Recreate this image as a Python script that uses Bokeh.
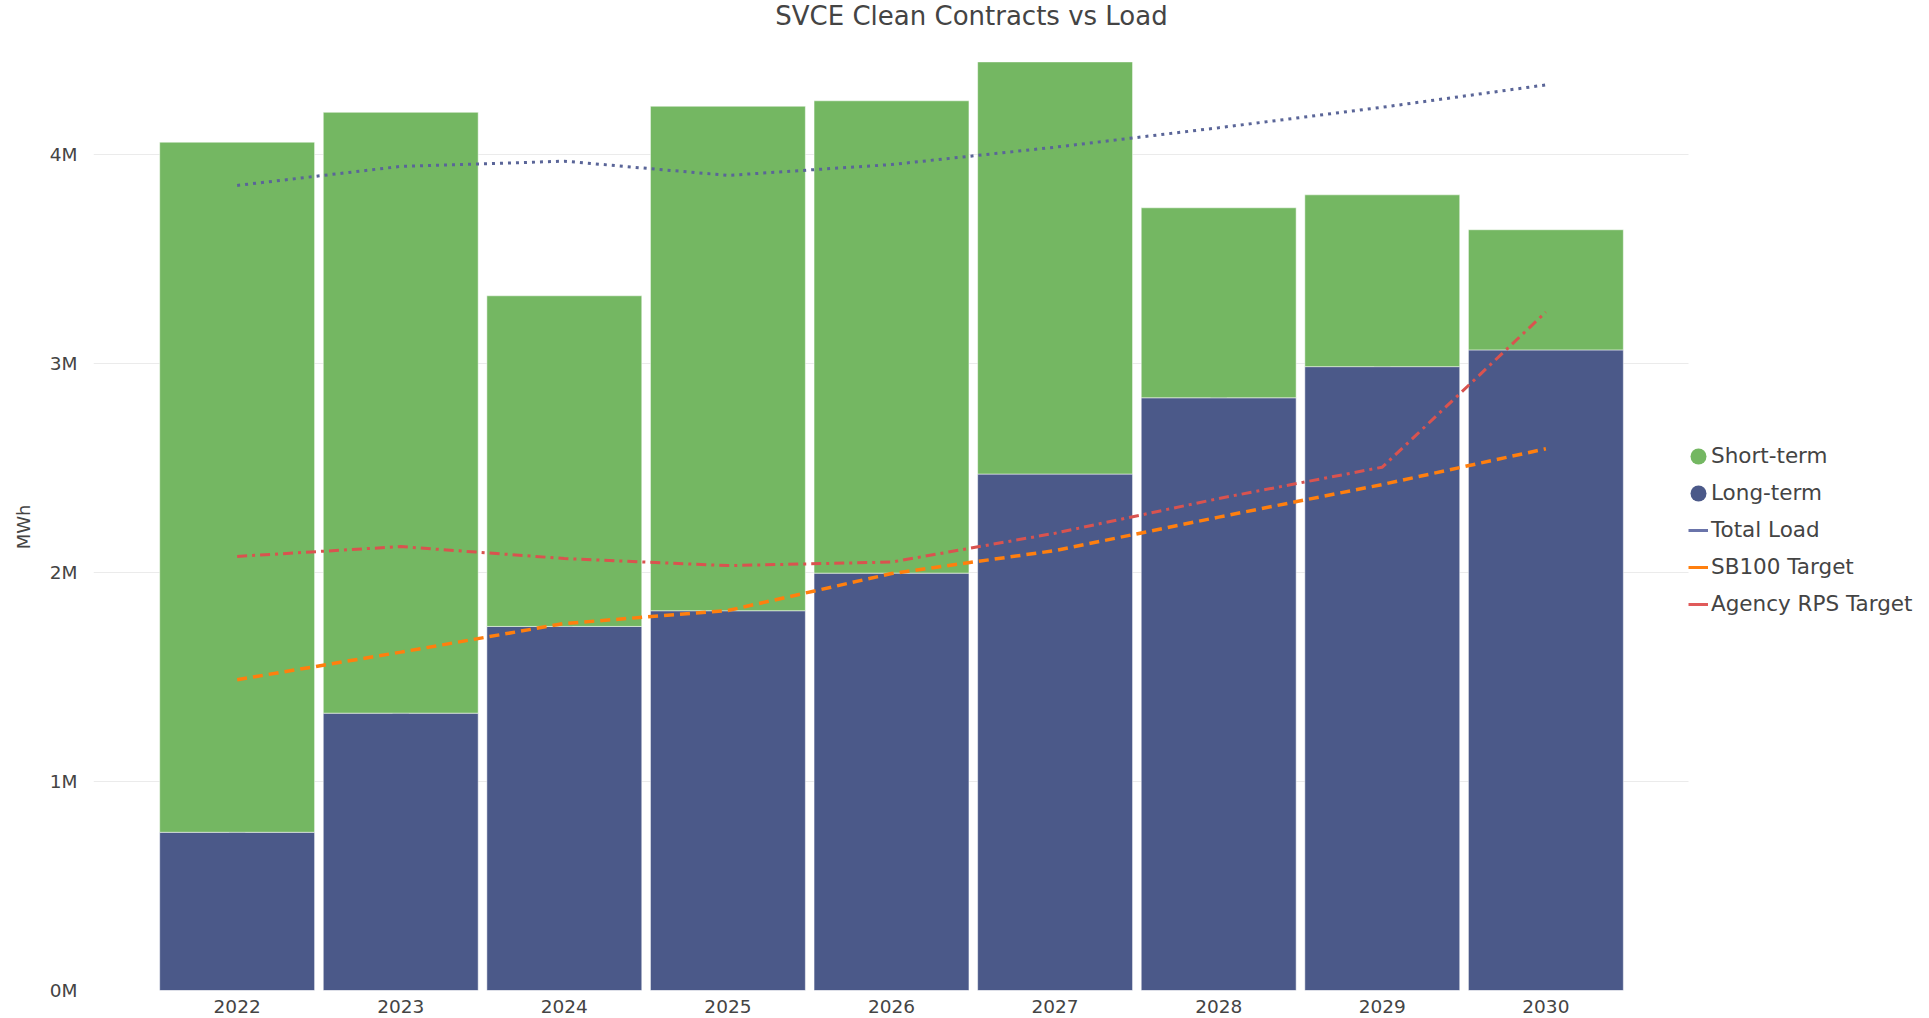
from bokeh.plotting import figure
from bokeh.models import Range1d, FixedTicker, Legend, LegendItem, Label, ColumnDataSource
from bokeh.embed import file_html
from bokeh.resources import INLINE

# ---- data (MWh) ----
years = [2022, 2023, 2024, 2025, 2026, 2027, 2028, 2029, 2030]
year_labels = ["2022", "2023", "2024", "2025", "2026", "2027", "2028", "2029", "2030"]
long_term = [757000, 1327000, 1742000, 1817000, 1997000, 2471000, 2836000, 2985000, 3065000]
short_term = [3302000, 2875000, 1582000, 2414000, 2260000, 1972000, 909000, 822000, 575000]
total_load = [3852000, 3943000, 3968000, 3900000, 3952000, 4035000, 4128000, 4226000, 4333000]
sb100_target = [1487000, 1619000, 1756000, 1818000, 1995000, 2105000, 2265000, 2421000, 2592000]
agency_rps_target = [2077000, 2124000, 2067000, 2033000, 2050000, 2188000, 2354000, 2504000, 3246000]
y_tick_values = [0, 1000000, 2000000, 3000000, 4000000]
y_tick_labels = ["0M", "1M", "2M", "3M", "4M"]

FONT = "DejaVu Sans"
GREEN = "#74b762"
NAVY = "#4b5989"
LOAD = "#5a6598"
ORANGE = "#ff7f0e"
RED = "#d9534f"
TXT = "#444444"

# plotting area of the bars (in x data units) and the full frame (legend lives inside it)
X_PLOT = (2021.122, 2030.871)
p = figure(width=1929, height=1018, output_backend="svg", toolbar_location=None, title=None,
           x_range=Range1d(2021.122, 2032.345), y_range=Range1d(0, 4736842),
           min_border_left=93, min_border_right=0, min_border_top=0, min_border_bottom=28)
p.outline_line_color = None
p.background_fill_color = "white"

src = ColumnDataSource(dict(year=years, long=long_term, short=short_term))

# horizontal gridlines limited to the plotting area
grid_ok = False
try:
    p.ygrid[0].cross_bounds = X_PLOT
    grid_ok = True
except Exception:
    grid_ok = False
if not grid_ok:
    p.ygrid.grid_line_color = None
    p.segment(x0=[X_PLOT[0]] * len(y_tick_values), x1=[X_PLOT[1]] * len(y_tick_values),
              y0=y_tick_values, y1=y_tick_values, line_color="#ebebeb", line_width=1)
else:
    p.ygrid.grid_line_color = "#ebebeb"
    p.ygrid.grid_line_width = 1

# legend swatches (circles) sit behind the bars, hidden by them
r_short = p.ellipse(x="year", y="long", width=16, height=16, width_units="screen",
                    height_units="screen", fill_color=GREEN, line_color=None, source=src)
r_long = p.ellipse(x="year", y="long", width=16, height=16, width_units="screen",
                   height_units="screen", fill_color=NAVY, line_color=None, source=src)

p.vbar_stack(["long", "short"], x="year", width=0.947, source=src,
             fill_color=[NAVY, GREEN], line_color="white", line_alpha=0.5, line_width=1)

p.line(years, total_load, line_color=LOAD, line_width=3, line_dash="3 5")
p.line(years, sb100_target, line_color=ORANGE, line_width=3.5, line_dash="10 6")
p.line(years, agency_rps_target, line_color=RED, line_width=3, line_dash="10 5 3 5")

# solid legend lines (not drawn on the plot)
r_load = p.line(years, total_load, line_color="#6a74aa", line_width=3, visible=False)
r_sb = p.line(years, sb100_target, line_color=ORANGE, line_width=3, visible=False)
r_rps = p.line(years, agency_rps_target, line_color="#e05a5a", line_width=3, visible=False)

leg = Legend(items=[LegendItem(label="Short-term", renderers=[r_short]),
                    LegendItem(label="Long-term", renderers=[r_long]),
                    LegendItem(label="Total Load", renderers=[r_load]),
                    LegendItem(label="SB100 Target", renderers=[r_sb]),
                    LegendItem(label="Agency RPS Target", renderers=[r_rps])],
             location=(1595, 374), glyph_width=20, glyph_height=20, label_height=20, spacing=12,
             label_standoff=3, padding=0, margin=0, border_line_color=None,
             background_fill_alpha=0, label_text_font=FONT, label_text_font_size="21.5px",
             label_text_color=TXT)
p.add_layout(leg)

p.add_layout(Label(x=878, y=975, x_units="screen", y_units="screen",
                   text="SVCE Clean Contracts vs Load", text_align="center", text_baseline="middle",
                   text_font=FONT, text_font_size="26px", text_color=TXT))

p.xaxis.ticker = FixedTicker(ticks=years)
p.xaxis.major_label_overrides = {y: l for y, l in zip(years, year_labels)}
p.yaxis.ticker = FixedTicker(ticks=y_tick_values)
p.yaxis.major_label_overrides = {v: l for v, l in zip(y_tick_values, y_tick_labels)}
for ax in (p.xaxis[0], p.yaxis[0]):
    ax.axis_line_color = None
    ax.major_tick_line_color = None
    ax.minor_tick_line_color = None
    ax.major_label_text_font = FONT
    ax.major_label_text_font_size = "18.5px"
    ax.major_label_text_color = TXT
p.xaxis.major_label_standoff = 3
p.yaxis.major_label_standoff = 10
# trailing non-breaking spaces move the visible title down to the plot-area middle
p.yaxis.axis_label = "MWh" + "\u00a0" * 11
p.yaxis.axis_label_text_font = FONT
p.yaxis.axis_label_text_font_size = "18px"
p.yaxis.axis_label_text_font_style = "normal"
p.yaxis.axis_label_text_color = TXT
p.yaxis.axis_label_standoff = 13
p.xgrid.grid_line_color = None

open("out.html", "w").write(file_html(p, INLINE))
